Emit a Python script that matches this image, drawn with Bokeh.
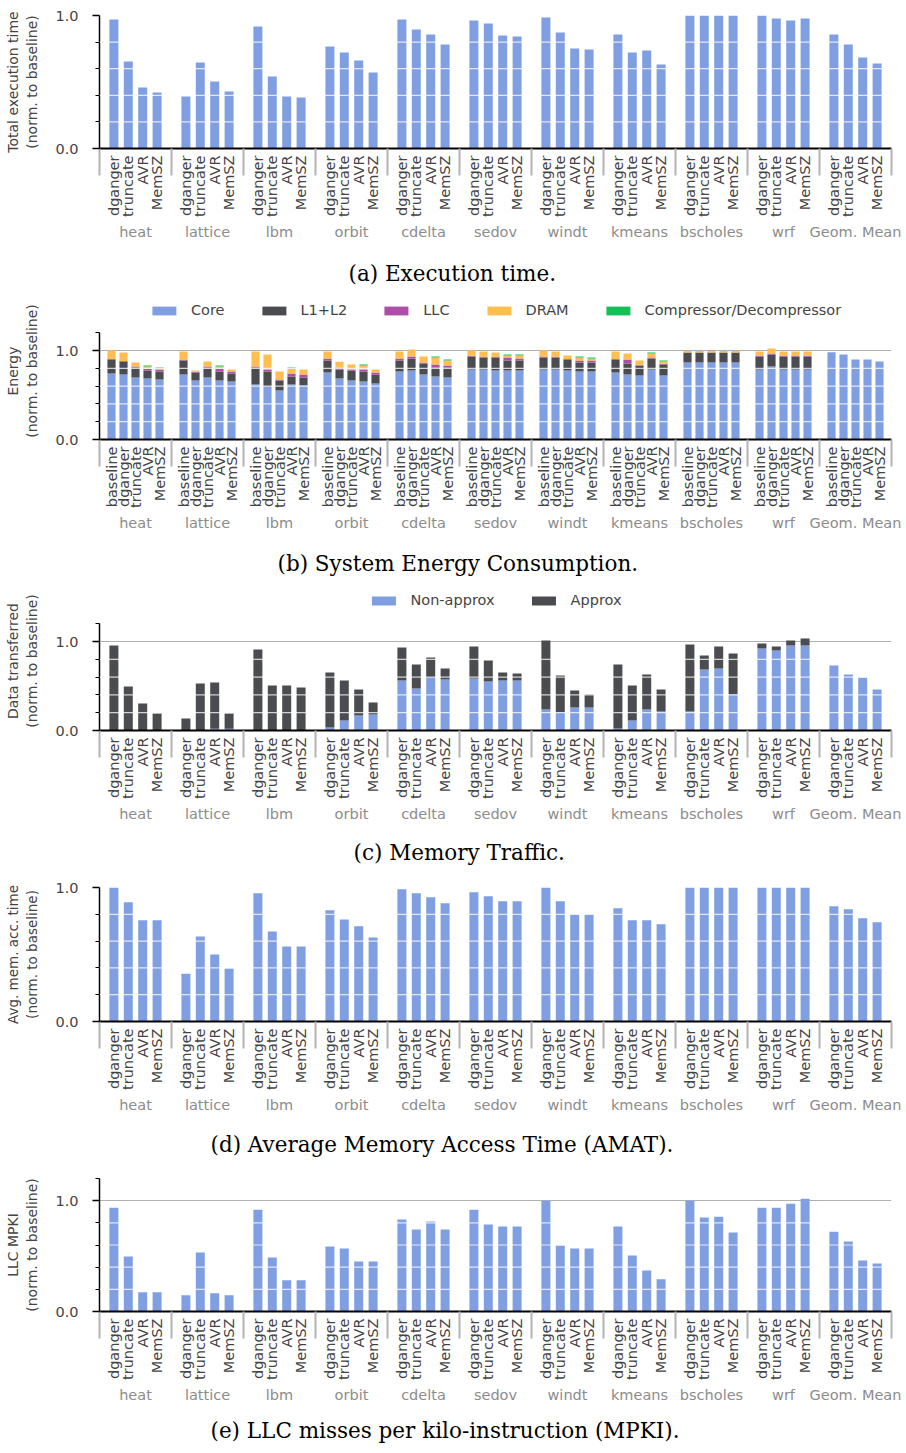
import math
from bokeh.plotting import figure
from bokeh.models import (ColumnDataSource, Range1d, LinearAxis, FixedTicker, Span, Title,
                          Legend, LegendItem, PrintfTickFormatter)
from bokeh.layouts import column
from bokeh.embed import file_html
from bokeh.resources import INLINE

# ---------------- data ----------------
groups = ["heat", "lattice", "lbm", "orbit", "cdelta", "sedov", "windt",
          "kmeans", "bscholes", "wrf", "Geom. Mean"]
methods = ["dganger", "truncate", "AVR", "MemSZ"]
methods_energy = ["baseline", "dganger", "truncate", "AVR", "MemSZ"]

# (a) execution time, group-major, 4 methods per group
exec_time = [0.97, 0.654, 0.459, 0.421,
             0.391, 0.647, 0.504, 0.429,
             0.917, 0.541, 0.391, 0.383,
             0.767, 0.722, 0.662, 0.571,
             0.97, 0.895, 0.857, 0.782,
             0.962, 0.94, 0.85, 0.842,
             0.985, 0.872, 0.752, 0.744,
             0.857, 0.722, 0.737, 0.632,
             1.0, 1.0, 1.0, 1.0,
             1.0, 0.977, 0.962, 0.977,
             0.857, 0.782, 0.684, 0.639]

# (b) energy components, group-major, 5 methods per group
energy_core = [0.742, 0.73, 0.697, 0.685, 0.674,
               0.73, 0.663, 0.697, 0.663, 0.652,
               0.618, 0.596, 0.551, 0.618, 0.607,
               0.753, 0.685, 0.663, 0.652, 0.629,
               0.764, 0.775, 0.73, 0.708, 0.697,
               0.787, 0.787, 0.775, 0.775, 0.775,
               0.787, 0.787, 0.775, 0.764, 0.764,
               0.753, 0.73, 0.719, 0.787, 0.719,
               0.865, 0.865, 0.865, 0.865, 0.865,
               0.787, 0.82, 0.787, 0.787, 0.787,
               0.98, 0.955, 0.899, 0.899, 0.876]
energy_l1l2 = [0.157, 0.146, 0.112, 0.09, 0.09,
               0.158, 0.09, 0.112, 0.101, 0.09,
               0.191, 0.168, 0.112, 0.09, 0.09,
               0.135, 0.10, 0.112, 0.112, 0.101,
               0.124, 0.135, 0.124, 0.101, 0.112,
               0.146, 0.134, 0.146, 0.113, 0.113,
               0.134, 0.134, 0.124, 0.101, 0.101,
               0.146, 0.124, 0.112, 0.123, 0.124,
               0.113, 0.113, 0.113, 0.113, 0.113,
               0.146, 0.135, 0.146, 0.146, 0.146,
               0, 0, 0, 0, 0]
energy_llc = [0.006, 0.006, 0.011, 0.023, 0.023,
              0.006, 0.007, 0.011, 0.034, 0.022,
              0.011, 0.023, 0.011, 0.034, 0.033,
              0.022, 0.02, 0.012, 0.023, 0.023,
              0.022, 0.023, 0.011, 0.034, 0.022,
              0.007, 0.009, 0.009, 0.033, 0.022,
              0.012, 0.009, 0.006, 0.023, 0.023,
              0.006, 0.045, 0.004, 0.011, 0.007,
              0, 0, 0, 0, 0,
              0.005, 0.011, 0.004, 0.004, 0.004,
              0, 0, 0, 0, 0]
energy_dram = [0.095, 0.096, 0.045, 0.022, 0.011,
               0.095, 0.015, 0.056, 0.022, 0.023,
               0.169, 0.168, 0.09, 0.056, 0.057,
               0.079, 0.07, 0.056, 0.044, 0.034,
               0.079, 0.078, 0.068, 0.078, 0.057,
               0.06, 0.059, 0.048, 0.023, 0.034,
               0.067, 0.059, 0.039, 0.033, 0.022,
               0.084, 0.067, 0.053, 0.045, 0.026,
               0.015, 0.015, 0.015, 0.015, 0.015,
               0.051, 0.056, 0.052, 0.052, 0.052,
               0, 0, 0, 0, 0]
energy_comp = [0, 0, 0, 0.011, 0.011,
               0, 0, 0, 0.011, 0,
               0, 0, 0, 0.011, 0,
               0, 0, 0, 0.012, 0,
               0, 0, 0, 0.012, 0.011,
               0, 0, 0, 0.011, 0.011,
               0, 0, 0, 0.012, 0.011,
               0, 0, 0, 0.012, 0.012,
               0, 0, 0, 0, 0,
               0, 0, 0, 0, 0,
               0, 0, 0, 0, 0]
energy_labels = ["Core", "L1+L2", "LLC", "DRAM", "Compressor/Decompressor"]

# (c) memory traffic: total and non-approx part
traffic_total = [0.955, 0.494, 0.303, 0.191,
                 0.135, 0.528, 0.539, 0.191,
                 0.91, 0.506, 0.506, 0.483,
                 0.652, 0.562, 0.461, 0.315,
                 0.933, 0.742, 0.82, 0.697,
                 0.944, 0.787, 0.652, 0.64,
                 1.011, 0.618, 0.449, 0.404,
                 0.742, 0.506, 0.629, 0.461,
                 0.966, 0.843, 0.944, 0.865,
                 0.978, 0.944, 1.011, 1.034,
                 0.73, 0.629, 0.596, 0.461]
traffic_nonapprox = [0, 0, 0, 0,
                     0, 0.005, 0.02, 0.02,
                     0, 0, 0, 0,
                     0.034, 0.112, 0.169, 0.18,
                     0.562, 0.472, 0.596, 0.573,
                     0.584, 0.551, 0.562, 0.562,
                     0.236, 0.202, 0.258, 0.258,
                     0.022, 0.112, 0.236, 0.213,
                     0.213, 0.685, 0.697, 0.404,
                     0.921, 0.899, 0.955, 0.955,
                     0.73, 0.629, 0.596, 0.461]

# (d) AMAT
amat = [1.0, 0.89, 0.755, 0.755,
        0.357, 0.635, 0.5, 0.395,
        0.957, 0.672, 0.56, 0.56,
        0.83, 0.762, 0.71, 0.627,
        0.987, 0.957, 0.927, 0.882,
        0.965, 0.935, 0.897, 0.897,
        1.0, 0.897, 0.8, 0.8,
        0.845, 0.755, 0.755, 0.725,
        1.0, 1.0, 1.0, 1.0,
        1.0, 1.0, 1.0, 1.0,
        0.86, 0.837, 0.77, 0.74]

# (e) LLC MPKI
mpki = [0.937, 0.497, 0.174, 0.174,
        0.147, 0.533, 0.165, 0.147,
        0.919, 0.488, 0.281, 0.281,
        0.587, 0.569, 0.452, 0.452,
        0.829, 0.74, 0.811, 0.74,
        0.919, 0.784, 0.766, 0.766,
        1.0, 0.596, 0.569, 0.569,
        0.766, 0.506, 0.371, 0.29,
        1.0, 0.847, 0.856, 0.713,
        0.937, 0.937, 0.973, 1.018,
        0.72, 0.632, 0.461, 0.434]

# ---------------- style ----------------
BLUE = "#809fe3"
DARK = "#4a4c4f"
PURPLE = "#ad4fa8"
ORANGE = "#ffbf50"
GREEN = "#14bf55"
SANS = "DejaVu Sans"
SERIF = "DejaVu Serif"
FS = "14.5px"


def make_panel(names, ylabel, ytop, yend, height, top_b, bot_b, caption, cap_left,
               cap_standoff, ylabel_fs="14px"):
    n = len(names)
    slot = n + 1
    xmax = slot * len(groups)
    xs = [g * slot + k + 1 for g in range(len(groups)) for k in range(n)]
    bounds = [g * slot for g in range(len(groups) + 1)]
    centers = [g * slot + slot / 2 for g in range(len(groups))]

    p = figure(width=906, height=height,
               x_range=Range1d(0, xmax), y_range=Range1d(0, yend),
               output_backend="svg", toolbar_location=None, title=None,
               x_axis_location=None, y_axis_location="left",
               min_border_left=99, min_border_right=15,
               min_border_top=top_b, min_border_bottom=bot_b)
    p.outline_line_color = None
    p.background_fill_color = "white"
    p.border_fill_color = "white"

    ya = p.yaxis[0]
    minors = [0.2, 0.4, 0.6, 0.8] + ([1.2] if ytop > 1.1 else [])
    ya.ticker = FixedTicker(ticks=[0, 1], minor_ticks=minors)
    ya.bounds = (0, ytop)
    ya.formatter = PrintfTickFormatter(format="%.1f")
    ya.axis_label = ylabel
    ya.axis_label_text_font = SANS
    ya.axis_label_text_font_style = "normal"
    ya.axis_label_text_font_size = ylabel_fs
    ya.axis_label_standoff = 12
    ya.major_label_text_font = SANS
    ya.major_label_text_font_size = FS
    ya.major_label_standoff = 14
    ya.major_tick_out = 7
    ya.major_tick_in = 0
    ya.minor_tick_out = 4
    ya.minor_tick_in = 0
    ya.axis_line_width = 1.5
    ya.major_tick_line_width = 1.5
    ya.minor_tick_line_width = 1.2

    p.xgrid.visible = False
    p.ygrid.ticker = FixedTicker(ticks=[1.0])
    p.ygrid.grid_line_color = "#b0b0b0"
    p.ygrid.grid_line_width = 1.2

    xa = LinearAxis(ticker=FixedTicker(ticks=xs, minor_ticks=bounds),
                    major_label_overrides={x: names[i % n] for i, x in enumerate(xs)},
                    major_label_orientation=math.pi / 2,
                    major_label_text_font=SANS, major_label_text_font_size=FS,
                    major_label_standoff=-20,
                    major_tick_out=0, major_tick_in=0, major_tick_line_color=None,
                    minor_tick_out=27, minor_tick_in=0,
                    minor_tick_line_color="#b3b3b3", minor_tick_line_width=2,
                    axis_line_color="black", axis_line_width=2)
    p.add_layout(xa, "below")

    ga = LinearAxis(ticker=FixedTicker(ticks=centers, minor_ticks=[]),
                    major_label_overrides={c: groups[i] for i, c in enumerate(centers)},
                    major_label_text_font=SANS, major_label_text_font_size=FS,
                    major_label_text_color="#8c8c8c", major_label_standoff=-2,
                    major_tick_line_color=None, minor_tick_line_color=None,
                    axis_line_color=None)
    p.add_layout(ga, "below")

    t = Title(text=caption, align="left", text_font=SERIF, text_font_size="21.5px",
              text_font_style="normal", text_color="black",
              offset=cap_left - 99, standoff=cap_standoff)
    p.add_layout(t, "below")
    return p, xs


def add_white_lines(p):
    for v in [0.2, 0.4, 0.6, 0.8]:
        p.add_layout(Span(location=v, dimension="width", line_color="white",
                          line_alpha=0.75, line_width=1.2))


def legend_top(p, items, margin):
    lg = Legend(items=items, orientation="horizontal", location="top_center",
                border_line_color=None, background_fill_alpha=0,
                glyph_width=30, glyph_height=11, label_text_font=SANS,
                label_text_font_size=FS, label_standoff=12, spacing=34,
                padding=0, margin=margin)
    p.add_layout(lg)


# (a)
pa, xa_ = make_panel(methods, "Total execution time\n(norm. to baseline)", 1.0, 1.0,
                     302, 15, 154, "(a) Execution time.", 348, 33)
pa.vbar(x=xa_, top=exec_time, width=0.625, fill_color=BLUE, line_color=None)
add_white_lines(pa)

# (b) frame extends above 1.2 to hold the legend (89 px per unit)
pb, xb_ = make_panel(methods_energy, "Energy\n(norm. to baseline)", 1.2, 137 / 89,
                     289, 0, 152, "(b) System Energy Consumption.", 277, 31)
src_b = ColumnDataSource(dict(x=xb_, core=energy_core, l1l2=energy_l1l2, llc=energy_llc,
                              dram=energy_dram, comp=energy_comp))
rs = pb.vbar_stack(["core", "l1l2", "llc", "dram", "comp"], x="x", width=0.68,
                   fill_color=[BLUE, DARK, PURPLE, ORANGE, GREEN], line_color=None,
                   source=src_b)
add_white_lines(pb)
legend_top(pb, [LegendItem(label=l, renderers=[r]) for l, r in zip(energy_labels, rs)], 0)

# (c)
pc, xc_ = make_panel(methods, "Data transferred\n(norm. to baseline)", 1.2, 139 / 89,
                     287, 0, 148, "(c) Memory Traffic.", 353, 27)
src_c = ColumnDataSource(dict(x=xc_, nonapprox=traffic_nonapprox,
                              approx=[t - a for t, a in zip(traffic_total, traffic_nonapprox)]))
rc = pc.vbar_stack(["nonapprox", "approx"], x="x", width=0.625,
                   fill_color=[BLUE, DARK], line_color=None, source=src_c)
add_white_lines(pc)
legend_top(pc, [LegendItem(label="Non-approx", renderers=[rc[0]]),
                LegendItem(label="Approx", renderers=[rc[1]])], 1)

# (d)
pd_, xd_ = make_panel(methods, "Avg. mem. acc. time\n(norm. to baseline)", 1.0, 1.0,
                      292, 9, 149, "(d) Average Memory Access Time (AMAT).", 210, 28,
                      ylabel_fs="13.5px")
pd_.vbar(x=xd_, top=amat, width=0.625, fill_color=BLUE, line_color=None)
add_white_lines(pd_)

# (e)
pe, xe_ = make_panel(methods, "LLC MPKI\n(norm. to baseline)", 1.2, 1.2,
                     283, 8, 142, "(e) LLC misses per kilo-instruction (MPKI).", 210, 21)
pe.vbar(x=xe_, top=mpki, width=0.625, fill_color=BLUE, line_color=None)
add_white_lines(pe)

layout = column(pa, pb, pc, pd_, pe, spacing=0)
open("out.html", "w").write(file_html(layout, INLINE))
